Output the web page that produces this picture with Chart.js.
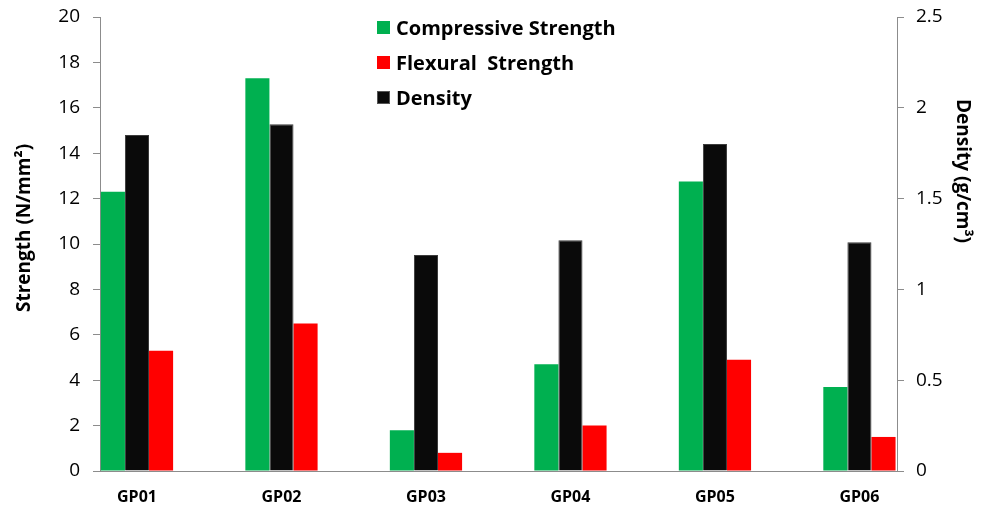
<!DOCTYPE html>
<html>
<head>
<meta charset="utf-8">
<script src="https://cdn.jsdelivr.net/npm/chart.js@4.4.0/dist/chart.umd.min.js"></script>
<style>
  html, body { margin: 0; padding: 0; background: #fff; }
  #wrap { width: 983px; height: 507px; }
</style>
</head>
<body>
<div id="wrap"><canvas id="chart"></canvas></div>
<script>
const groups = ["GP01", "GP02", "GP03", "GP04", "GP05", "GP06"];
const compressive = [12.3, 17.3, 1.8, 4.7, 12.75, 3.7];
const flexural = [5.3, 6.5, 0.8, 2.0, 4.9, 1.5];
const density = [1.85, 1.91, 1.19, 1.27, 1.80, 1.26];
const strengthTicks = [0, 2, 4, 6, 8, 10, 12, 14, 16, 18, 20];
const densityTicks = [0, 0.5, 1, 1.5, 2, 2.5];

const FONT = "'Open Sans', sans-serif";
const AXIS_GREY = "#8c8c8c";

const toPoints = (vals) => vals.map((v, i) => ({ x: i, y: v }));

// legend + axis titles drawn by hand (stacked legend inside the plot)
const extras = {
  id: "extras",
  afterDraw(chart) {
    const ctx = chart.ctx;
    ctx.save();
    ctx.textBaseline = "middle";
    ctx.font = "bold 20px " + FONT;
    ctx.fillStyle = "#000";
    const order = [0, 2, 1];
    order.forEach((di, row) => {
      const ds = chart.data.datasets[di];
      const y = 28 + row * 35;
      ctx.fillStyle = ds.backgroundColor;
      ctx.fillRect(377, y - 7, 13, 13);
      if (ds.borderWidth) {
        ctx.strokeStyle = "#555";
        ctx.lineWidth = 1;
        ctx.strokeRect(377.5, y - 6.5, 12, 12);
      }
      ctx.fillStyle = "#000";
      ctx.textAlign = "left";
      ctx.fillText(ds.label, 396, y + 1);
    });

    ctx.textAlign = "center";
    ctx.font = "bold 19px " + FONT;
    ctx.save();
    ctx.translate(25, 228);
    ctx.rotate(-Math.PI / 2);
    ctx.fillText("Strength (N/mm²)", 0, 0);
    ctx.restore();
    ctx.save();
    ctx.translate(962, 171);
    ctx.rotate(Math.PI / 2);
    ctx.fillText("Density (g/cm³)", 0, 0);
    ctx.restore();
    ctx.restore();
  },
};

const fixY = (w) => (s) => {
  s.width = w;
  s.paddingTop = 0;
  s.paddingBottom = 0;
};

new Chart(document.getElementById("chart"), {
  type: "bar",
  data: {
    datasets: [
      {
        label: "Compressive Strength",
        data: toPoints(compressive),
        backgroundColor: "#00b050",
        yAxisID: "y",
      },
      {
        label: "Density",
        data: toPoints(density),
        backgroundColor: "#0a0a0a",
        borderColor: "#3c3c3c",
        borderWidth: 1,
        yAxisID: "y2",
      },
      {
        label: "Flexural  Strength",
        data: toPoints(flexural),
        backgroundColor: "#ff0000",
        yAxisID: "y",
      },
    ],
  },
  options: {
    responsive: true,
    maintainAspectRatio: false,
    animation: false,
    layout: { padding: { top: 17, left: 0, right: 0, bottom: 0 } },
    categoryPercentage: 0.5,
    barPercentage: 1,
    plugins: {
      legend: { display: false },
      tooltip: { enabled: false },
    },
    scales: {
      x: {
        type: "linear",
        offset: false,
        min: -0.256,
        max: 5.26,
        afterBuildTicks: (s) => {
          s.ticks = groups.map((_, i) => ({ value: i }));
        },
        afterFit: (s) => {
          s.height = 36;
          s.paddingLeft = 0;
          s.paddingRight = 0;
        },
        grid: { display: false, drawTicks: false, offset: false },
        border: { color: AXIS_GREY, width: 1 },
        ticks: {
          padding: 17,
          color: "#000",
          font: { family: FONT, size: 16, weight: "bold" },
          callback: (v) => groups[v] ?? "",
          maxRotation: 0,
          autoSkip: false,
        },
      },
      y: {
        position: "left",
        min: 0,
        max: 20,
        afterBuildTicks: (s) => {
          s.ticks = strengthTicks.map((v) => ({ value: v }));
        },
        afterFit: fixY(100),
        grid: { drawOnChartArea: false, tickLength: 7, color: AXIS_GREY },
        border: { color: AXIS_GREY, width: 1 },
        ticks: {
          padding: 13,
          color: "#000",
          font: { family: FONT, size: 19 },
          callback: (v) => String(v),
        },
      },
      y2: {
        position: "right",
        min: 0,
        max: 2.5,
        afterBuildTicks: (s) => {
          s.ticks = densityTicks.map((v) => ({ value: v }));
        },
        afterFit: fixY(86),
        grid: { drawOnChartArea: false, tickLength: 7, color: AXIS_GREY },
        border: { color: AXIS_GREY, width: 1 },
        ticks: {
          padding: 12,
          color: "#000",
          font: { family: FONT, size: 19 },
          callback: (v) => String(v),
        },
      },
    },
  },
  plugins: [extras],
});
</script>
</body>
</html>
